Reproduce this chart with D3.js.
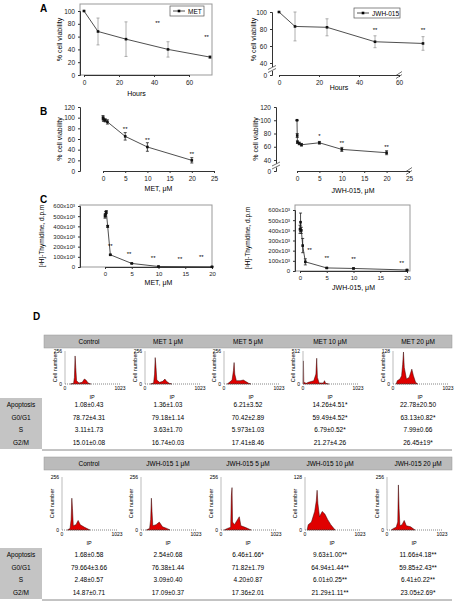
<!DOCTYPE html>
<html><head><meta charset="utf-8">
<script src="https://cdn.jsdelivr.net/npm/d3@7"></script>
<style>body{margin:0;background:#fff}text{font-family:"Liberation Sans",Arial,sans-serif}</style>
</head><body><svg id="c" width="458" height="601"></svg>
<script>
// ---- data ----
var hours = [0, 8, 24, 48, 72];
var aMet = [100, 68, 56, 40, 28], aMetErr = [0, 21, 27, 12, 2];
var aJwh = [100, 83, 82, 65, 63], aJwhErr = [0, 17, 10, 7, 8];
var bMetConc = [0, 0.1, 0.5, 1, 5, 10, 20];
var bMet = [100, 97, 95, 92, 65, 45, 20], bMetErr = [4, 4, 3, 4, 7, 8, 5];
var bJwhConc = [0, 0.05, 0.1, 0.5, 1, 5, 10, 20];
var bJwh = [100, 77, 67, 65, 63, 66, 56, 51], bJwhErr = [0, 3, 2, 2, 2, 2, 3, 3];
var cMetConc = [0, 0.1, 0.25, 0.5, 1, 5, 10, 20];
var cMet = [500, 520, 540, 400, 120, 35, 5, 2], cMetErr = [20, 25, 15, 10, 5, 3, 2, 1];
var cJwhConc = [0, 0.1, 0.25, 0.5, 1, 5, 10, 20];
var cJwh = [410, 480, 400, 250, 90, 30, 25, 10], cJwhErr = [40, 90, 30, 70, 30, 5, 5, 5];
var starsAMet = [[42, 78, "**"], [70, 56, "**"]];
var starsAJwh = [[48, 76, "**"], [72, 76, "**"]];
var starsBMet = [[5, 75, "**"], [10, 55, "**"], [20, 29, "**"]];
var starsBJwh = [[5, 73, "*"], [10, 62, "**"], [20, 57, "**"]];
var starsCMet = [[1, 190, "**"], [4.5, 110, "**"], [9, 65, "**"], [14, 55, "**"], [18, 75, "**"]];
var starsCJwh = [[1.8, 190, "**"], [5, 110, "**"], [10, 95, "**"], [19, 60, "**"]];

var metHeaders = ["Control", "MET 1 μM", "MET 5 μM", "MET 10 μM", "MET  20 μM"];
var jwhHeaders = ["Control", "JWH-015 1 μM", "JWH-015 5 μM", "JWH-015 10 μM", "JWH-015 20 μM"];
var rowLabels = ["Apoptosis", "G0/G1", "S", "G2/M"];
var metTable = [
  ["1.08±0.43", "1.36±1.03", "6.21±3.52", "14.26±4.51*", "22.78±20.50"],
  ["78.72±4.31", "79.18±1.14", "70.42±2.89", "59.49±4.52*", "63.13±0.82*"],
  ["3.11±1.73", "3.63±1.70", "5.973±1.03", "6.79±0.52*", "7.99±0.66"],
  ["15.01±0.08", "16.74±0.03", "17.41±8.46", "21.27±4.26", "26.45±19*"]];
var jwhTable = [
  ["1.68±0.58", "2.54±0.68", "6.46±1.66*", "9.63±1.00**", "11.66±4.18**"],
  ["79.664±3.66", "76.38±1.44", "71.82±1.79", "64.94±1.44**", "59.85±2.43**"],
  ["2.48±0.57", "3.09±0.40", "4.20±0.87", "6.01±0.25**", "6.41±0.22**"],
  ["14.87±0.71", "17.09±0.37", "17.36±2.01", "21.29±1.11**", "23.05±2.69*"]];
var metYMax = [256, 256, 256, 512, 128];
var jwhYMax = [256, 256, 256, 128, 256];
// histogram outlines: [channel, fraction of y max]
var metHist = [
  [[100,0],[160,0.02],[175,0.2],[188,0.85],[200,0.5],[215,0.1],[260,0.03],[320,0.05],[360,0.15],[390,0.12],[430,0.03],[480,0]],
  [[100,0],[160,0.03],[178,0.3],[190,0.8],[205,0.5],[220,0.12],[270,0.05],[330,0.08],[370,0.15],[400,0.08],[450,0.02],[500,0]],
  [[60,0],[100,0.05],[150,0.12],[175,0.4],[188,0.65],[200,0.3],[230,0.1],[300,0.1],[360,0.12],[400,0.08],[460,0.02],[500,0]],
  [[0,0],[8,0.7],[15,0.05],[60,0.02],[100,0.05],[200,0.1],[240,0.3],[255,0.78],[268,0.2],[300,0.03],[380,0.03],[400,0.1],[420,0.02],[480,0]],
  [[60,0],[80,0.1],[130,0.15],[160,0.25],[180,0.6],[195,0.97],[210,0.5],[250,0.15],[300,0.2],[350,0.45],[380,0.25],[420,0.05],[460,0]]];
var jwhHist = [
  [[100,0],[150,0.03],[170,0.2],[183,0.6],[195,0.4],[210,0.08],[260,0.1],[300,0.18],[340,0.1],[420,0.05],[520,0]],
  [[100,0],[160,0.03],[180,0.2],[193,0.6],[205,0.35],[220,0.08],[280,0.1],[340,0.15],[400,0.06],[480,0.03],[540,0]],
  [[60,0],[120,0.03],[180,0.05],[193,0.65],[205,0.8],[215,0.15],[250,0.1],[310,0.2],[340,0.25],[370,0.08],[450,0.05],[560,0]],
  [[40,0],[60,0.1],[120,0.15],[180,0.35],[210,0.55],[225,0.75],[240,0.5],[270,0.25],[320,0.35],[370,0.3],[420,0.2],[480,0.1],[560,0]],
  [[80,0],[120,0.03],[170,0.05],[200,0.15],[212,0.85],[225,0.4],[240,0.08],[280,0.1],[320,0.18],[360,0.08],[440,0.06],[520,0]]];

var svg = d3.select("#c");

function panelLetter(t, x, y) {
  svg.append("text").attr("x", x).attr("y", y).text(t)
    .attr("font-size", 10).attr("font-weight", "bold");
}
panelLetter("A", 40, 12);
panelLetter("B", 40, 115);
panelLetter("C", 40, 203);
panelLetter("D", 33, 320);

function lineChart(o) {
  var g = svg.append("g");
  var x = d3.scaleLinear().domain(o.xd).range([o.x0, o.x1]);
  var y = d3.scaleLinear().domain(o.yd).range(o.yr);
  if (o.box) {
    g.append("rect").attr("x", o.bx0).attr("y", o.by0)
      .attr("width", o.bx1 - o.bx0).attr("height", o.by1 - o.by0)
      .attr("fill", "none").attr("stroke", "#999").attr("stroke-width", 1);
  }
  var ya = g.append("g").attr("transform", "translate(" + o.bx0 + ",0)")
    .call(d3.axisLeft(y).tickValues(o.yt).tickSize(2).tickFormat(o.yf || d3.format("d")));
  var xa = g.append("g").attr("transform", "translate(0," + o.by1 + ")")
    .call(d3.axisBottom(x).tickValues(o.xt).tickSize(2).tickFormat(d3.format("d")));
  [ya, xa].forEach(function (a) {
    a.select(".domain").attr("stroke", "#333");
    a.selectAll("text").attr("font-size", o.tf || 6.5).attr("fill", "#222");
    a.selectAll("line").attr("stroke", "#333");
  });
  if (o.brk) {
    var yb = (y(o.brk) + o.by1) / 2;
    g.append("rect").attr("x", o.bx0 - 4).attr("y", yb - 2).attr("width", 8).attr("height", 4).attr("fill", "#fff");
    [-1.5, 1.5].forEach(function (d) {
      g.append("line").attr("x1", o.bx0 - 4).attr("x2", o.bx0 + 4)
        .attr("y1", yb + d + 2).attr("y2", yb + d - 2).attr("stroke", "#333").attr("stroke-width", 0.7);
      g.append("line").attr("x1", o.x1 - 3).attr("x2", o.x1 + 3)
        .attr("y1", o.by1 + d + 2).attr("y2", o.by1 + d - 2).attr("stroke", "#333").attr("stroke-width", 0.7);
    });
  }
  var pts = o.xs.map(function (d, i) { return [d, o.ys[i], o.es[i]]; });
  g.selectAll(".eb").data(pts).enter().append("path")
    .attr("d", function (d) {
      var px = x(d[0]), t = y(d[1] + d[2]), b = y(d[1] - d[2]);
      return "M" + px + "," + t + "V" + b + "M" + (px - 1.5) + "," + t + "H" + (px + 1.5) + "M" + (px - 1.5) + "," + b + "H" + (px + 1.5);
    })
    .attr("stroke", o.ec || "#222").attr("stroke-width", 0.8).attr("fill", "none");
  g.append("path").datum(pts)
    .attr("d", d3.line().x(function (d) { return x(d[0]); }).y(function (d) { return y(d[1]); }))
    .attr("fill", "none").attr("stroke", "#222").attr("stroke-width", 0.8);
  g.selectAll(".pt").data(pts).enter().append("rect")
    .attr("x", function (d) { return x(d[0]) - 1.3; }).attr("y", function (d) { return y(d[1]) - 1.3; })
    .attr("width", 2.6).attr("height", 2.6).attr("fill", "#111");
  g.selectAll(".st").data(o.stars).enter().append("text")
    .attr("x", function (d) { return x(d[0]); }).attr("y", function (d) { return y(d[1]); })
    .attr("text-anchor", "middle").attr("font-size", 6).text(function (d) { return d[2]; });
  g.append("text").attr("x", (o.x0 + o.x1) / 2).attr("y", o.xly).attr("text-anchor", "middle")
    .attr("font-size", 7).text(o.xl);
  g.append("text").attr("transform", "translate(" + o.ylx + "," + ((o.by0 + o.by1) / 2) + ") rotate(-90)")
    .attr("text-anchor", "middle").attr("font-size", o.yls || 7).text(o.yl);
  if (o.leg) {
    g.append("rect").attr("x", o.leg[0]).attr("y", o.leg[1]).attr("width", o.leg[2]).attr("height", 10)
      .attr("fill", "#fff").attr("stroke", "#555").attr("stroke-width", 0.7);
    g.append("line").attr("x1", o.leg[0] + 3).attr("x2", o.leg[0] + 15)
      .attr("y1", o.leg[1] + 5).attr("y2", o.leg[1] + 5).attr("stroke", "#222").attr("stroke-width", 0.8);
    g.append("rect").attr("x", o.leg[0] + 7.7).attr("y", o.leg[1] + 3.7).attr("width", 2.6).attr("height", 2.6);
    g.append("text").attr("x", o.leg[0] + 18).attr("y", o.leg[1] + 7.5).attr("font-size", 6.5).text(o.leg[3]);
  }
  return g;
}

// A
lineChart({xd: [0, 60], x0: 84, x1: 189, yd: [0, 100], yr: [75, 11], bx0: 80, bx1: 212, by0: 4, by1: 75, box: true,
  xt: [0, 20, 40, 60], yt: [0, 20, 40, 60, 80, 100], xs: hours, ys: aMet, es: aMetErr, ec: "#999",
  stars: starsAMet, xl: "Hours", xly: 96, yl: "% cell viability", ylx: 62, leg: [170, 6, 34, "MET"]});
lineChart({xd: [0, 60], x0: 279, x1: 399, yd: [0, 40, 100], yr: [75, 63, 12], bx0: 272, bx1: 410, by0: 4, by1: 75,
  xt: [0, 20, 40, 60], yt: [0, 40, 60, 80, 100], xs: hours, ys: aJwh, es: aJwhErr, ec: "#999", brk: 40,
  stars: starsAJwh, xl: "Hours", xly: 90, yl: "% cell viability", ylx: 256, leg: [354, 8, 46, "JWH-015"]});
// B
lineChart({xd: [0, 25], x0: 103, x1: 214, yd: [0, 120], yr: [171, 107], bx0: 80, bx1: 214, by0: 107, by1: 171,
  xt: [0, 5, 10, 15, 20, 25], yt: [0, 20, 40, 60, 80, 100, 120], xs: bMetConc, ys: bMet, es: bMetErr,
  stars: starsBMet, xl: "MET, μM", xly: 191, yl: "% cell viability", ylx: 62});
lineChart({xd: [0, 25], x0: 297, x1: 409, yd: [0, 40, 120], yr: [171, 160, 107], bx0: 276, bx1: 409, by0: 107, by1: 171,
  xt: [0, 5, 10, 15, 20, 25], yt: [0, 40, 60, 80, 100, 120], xs: bJwhConc, ys: bJwh, es: bJwhErr, brk: 40,
  stars: starsBJwh, xl: "JWH-015, μM", xly: 193, yl: "% cell viability", ylx: 258});
// C
var fmtK = function (d) { return d === 0 ? "0" : d + "x10³"; };
lineChart({xd: [0, 20], x0: 105, x1: 212, yd: [0, 600], yr: [267, 206], bx0: 80, bx1: 212, by0: 205, by1: 267, box: true,
  xt: [0, 5, 10, 15, 20], yt: [0, 100, 200, 300, 400, 500, 600], yf: fmtK, xs: cMetConc, ys: cMet, es: cMetErr, tf: 6,
  stars: starsCMet, xl: "MET, μM", xly: 285, yl: "[³H]-Thymidine, d.p.m", ylx: 44, yls: 6.5});
lineChart({xd: [0, 20], x0: 300, x1: 407, yd: [0, 600], yr: [271, 210], bx0: 295, bx1: 410, by0: 205, by1: 271, box: true,
  xt: [0, 5, 10, 15, 20], yt: [0, 100, 200, 300, 400, 500, 600], yf: fmtK, xs: cJwhConc, ys: cJwh, es: cJwhErr, tf: 6,
  stars: starsCJwh, xl: "JWH-015, μM", xly: 290, yl: "[³H]-Thymidine, d.p.m", ylx: 250, yls: 6.5});

// D
var colX = [89, 168, 248, 330, 418];
function block(headers, yMax, hists, table, o) {
  var g = svg.append("g");
  g.append("rect").attr("x", 44).attr("y", o.hy).attr("width", 408).attr("height", 13)
    .attr("fill", "#bbb").attr("stroke", "#999").attr("stroke-width", 0.5);
  g.selectAll(".h").data(headers).enter().append("text")
    .attr("x", function (d, i) { return colX[i]; }).attr("y", o.hy + 9)
    .attr("text-anchor", "middle").attr("font-size", 6.5).text(function (d) { return d; });
  hists.forEach(function (h, i) {
    var x = d3.scaleLinear().domain([0, 1023]).range([o.ax[i], o.ax[i] + 55]);
    var y = d3.scaleLinear().domain([0, yMax[i]]).range([o.y0, o.y1]);
    var hg = g.append("g");
    hg.append("path").datum(h)
      .attr("d", d3.area().x(function (d) { return x(d[0]); }).y0(o.y0).y1(function (d) { return y(d[1] * yMax[i]); }))
      .attr("fill", "#e00000").attr("stroke", "#300").attr("stroke-width", 0.5);
    hg.append("line").attr("x1", o.ax[i]).attr("x2", o.ax[i]).attr("y1", o.y1).attr("y2", o.y0)
      .attr("stroke", "#aaa").attr("stroke-width", 0.8);
    hg.append("line").attr("x1", o.ax[i]).attr("x2", o.ax[i] + 55).attr("y1", o.y0).attr("y2", o.y0)
      .attr("stroke", "#666").attr("stroke-width", 0.8).attr("stroke-dasharray", "1,1");
    hg.append("text").attr("x", o.ax[i] - 3).attr("y", o.y1 + 2).attr("text-anchor", "end").attr("font-size", 5).text(yMax[i]);
    hg.append("text").attr("x", o.ax[i] - 3).attr("y", o.y0 + 2).attr("text-anchor", "end").attr("font-size", 5).text("0");
    hg.append("text").attr("x", o.ax[i]).attr("y", o.y0 + 6).attr("text-anchor", "middle").attr("font-size", 5).text("0");
    hg.append("text").attr("x", o.ax[i] + 55).attr("y", o.y0 + 6).attr("text-anchor", "middle").attr("font-size", 5).text("1023");
    hg.append("text").attr("x", o.ax[i] + 27).attr("y", o.y0 + 15).attr("text-anchor", "middle").attr("font-size", 5.5).text("IP");
    hg.append("text").attr("transform", "translate(" + (o.ax[i] - 8) + "," + ((o.y0 + o.y1) / 2) + ") rotate(-90)")
      .attr("text-anchor", "middle").attr("font-size", 5.5).text("Cell number");
  });
  g.append("rect").attr("x", 0).attr("y", o.ty).attr("width", 42).attr("height", 51).attr("fill", "#c4c4c4");
  g.append("line").attr("x1", 42).attr("x2", 452).attr("y1", o.ty + 52).attr("y2", o.ty + 52)
    .attr("stroke", "#888").attr("stroke-width", 1);
  rowLabels.forEach(function (r, j) {
    var yy = o.ty + 9 + j * 12.6;
    g.append("text").attr("x", 21).attr("y", yy).attr("text-anchor", "middle").attr("font-size", 6.5).text(r);
    table[j].forEach(function (v, i) {
      g.append("text").attr("x", colX[i]).attr("y", yy).attr("text-anchor", "middle").attr("font-size", 6.5).text(v);
    });
  });
}
block(metHeaders, metYMax, metHist, metTable, {hy: 335, y0: 384, y1: 351, ax: [65, 145, 224, 303, 393], ty: 398});
block(jwhHeaders, jwhYMax, jwhHist, jwhTable, {hy: 457, y0: 530, y1: 477, ax: [62, 141, 221, 305, 387], ty: 548});
</script></body></html>
